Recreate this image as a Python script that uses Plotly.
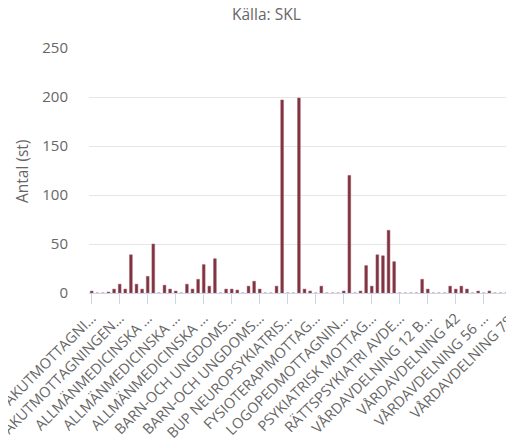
import plotly.graph_objects as go

# Category index (0..75); only every 5th category is labelled in the reference
categories = list(range(76))
values = [2, 0, 0, 1, 4, 9, 4, 39, 9, 4,
          17, 50, 0, 8, 4, 2, 0, 9, 4, 14,
          29, 7, 35, 0, 4, 4, 3, 0, 7, 12,
          4, 0, 0, 7, 197, 0, 0, 199, 4, 2,
          0, 7, 0, 0, 0, 2, 120, 0, 2, 28,
          7, 39, 38, 64, 32, 0, 0, 0, 0, 14,
          4, 0, 0, 0, 7, 4, 7, 4, 0, 2,
          0, 2, 0, 0, 0, 0]
tick_positions = list(range(0, 76, 5))
tick_labels = ["AKUTMOTTAGNI…", "AKUTMOTTAGNINGEN…", "ALLMÄNMEDICINSKA …",
               "ALLMÄNMEDICINSKA …", "ALLMÄNMEDICINSKA …", "BARN-OCH UNGDOMS…",
               "BARN-OCH UNGDOMS…", "BUP NEUROPSYKIATRIS…", "FYSIOTERAPIMOTTAG…",
               "LOGOPEDMOTTAGNIN…", "PSYKIATRISK MOTTAG…", "RÄTTSPSYKIATRI AVDE…",
               "VÅRDAVDELNING 12 B…", "VÅRDAVDELNING 42", "VÅRDAVDELNING 56 …",
               "VÅRDAVDELNING 78\u00a0"]
y_ticks = [0, 50, 100, 150, 200, 250]

FONT = "Open Sans, Lato, DejaVu Sans, sans-serif"

# The page body adds an 8px offset, so the figure is 8px smaller and shifted.
W, H = 506, 434
L, T, R, B = 81, 40, 0, 149
PW, PH = W - L - R, H - T - B

fig = go.Figure()
fig.add_trace(go.Bar(
    x=categories, y=values, width=0.5,
    marker=dict(color="#7f3240", line=dict(color="#a5606c", width=0.5)),
    hoverinfo="x+y",
))

fig.update_layout(
    width=W, height=H,
    margin=dict(l=L, r=R, t=T, b=B, autoexpand=False),
    paper_bgcolor="white", plot_bgcolor="white",
    showlegend=False,
    font=dict(family=FONT, color="#666666"),
    xaxis=dict(
        range=[-0.48, 75.4], automargin=False,
        tickmode="array", tickvals=tick_positions, ticktext=tick_labels,
        tickangle=-45, ticklabeloverflow="allow",
        tickfont=dict(size=14.5, color="#666666", family=FONT),
        ticks="outside", ticklen=10, tickcolor="#ccd6eb", tickwidth=1,
        showline=True, linecolor="#ccd6eb", linewidth=1,
        showgrid=False, zeroline=False,
    ),
    yaxis=dict(
        range=[0, 250], automargin=False,
        tickmode="array", tickvals=y_ticks,
        tickfont=dict(size=15, color="#666666", family=FONT),
        ticks="", ticklabelstandoff=20,
        showgrid=True, gridcolor="#e6e6e6", gridwidth=1,
        zeroline=False, showline=False,
    ),
    annotations=[
        dict(text="Källa: SKL", xref="paper", yref="paper",
             x=(258 - L) / PW, y=(H - B - 6) / PH,
             xanchor="center", yanchor="middle", showarrow=False,
             font=dict(size=15.5, color="#666666", family=FONT)),
        dict(text="Antal (st)", xref="paper", yref="paper",
             x=(14 - L) / PW, y=(H - B - 164) / PH,
             xanchor="center", yanchor="middle", textangle=-90, showarrow=False,
             font=dict(size=15.5, color="#666666", family=FONT)),
    ],
)

fig.write_html("out.html")
